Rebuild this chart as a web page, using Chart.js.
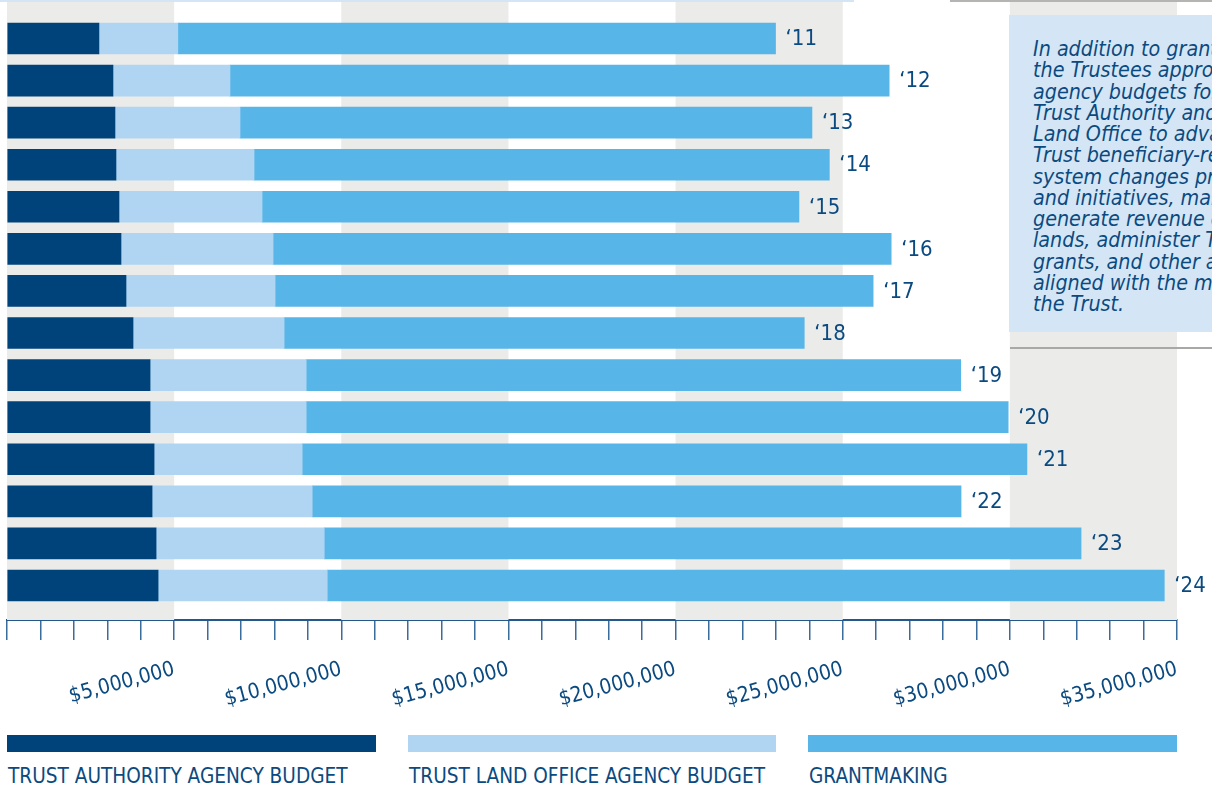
<!DOCTYPE html>
<html>
<head>
<meta charset="utf-8">
<script src="https://cdn.jsdelivr.net/npm/chart.js@4/dist/chart.umd.min.js"></script>
<style>
  html, body { margin: 0; padding: 0; background: #fff; overflow: hidden; width: 1212px; height: 790px; }
  #wrap { position: relative; width: 1212px; height: 790px; overflow: hidden; }
  #c { position: absolute; left: 0; top: 0; }
  .topstrip { position: absolute; left: 0; top: 0; width: 854px; height: 2px; background: #d4e6f5; }
  .topline { position: absolute; left: 950px; top: 0; width: 262px; height: 2px; background: #b4b4b2; }
  .midline { position: absolute; left: 1010px; top: 347px; width: 202px; height: 2px; background: #a8a8a6; }
  #note { position: absolute; left: 1009px; top: 15px; width: 260px; height: 317px; background: #d4e6f5;
          font-family: 'DejaVu Sans Condensed', 'DejaVu Sans', sans-serif; font-style: italic; font-size: 21.3px;
          line-height: 21.25px; color: #0b4a80; white-space: nowrap; box-sizing: border-box; padding: 23px 0 0 24px; }
  .lgbar { position: absolute; top: 735px; height: 17px; }
  .lgtxt { position: absolute; top: 764px; font-family: 'DejaVu Sans Condensed', 'DejaVu Sans', sans-serif;
           font-size: 20.6px; color: #0b4a80; white-space: nowrap; }
</style>
</head>
<body>
<div id="wrap">
  <canvas id="c" width="1212" height="720"></canvas>
  <div class="topstrip"></div>
  <div class="topline"></div>
  <div class="midline"></div>
  <div id="note"></div>
  <div id="legend"></div>
</div>
<script>
// ---- data ----
const years = [2011, 2012, 2013, 2014, 2015, 2016, 2017, 2018, 2019, 2020, 2021, 2022, 2023, 2024];
const authorityBudget = [2750000, 3170000, 3230000, 3260000, 3350000, 3410000, 3560000, 3770000, 4280000, 4280000, 4400000, 4340000, 4460000, 4520000];
const landOfficeBudget = [2360000, 3500000, 3740000, 4130000, 4280000, 4550000, 4460000, 4520000, 4670000, 4670000, 4430000, 4790000, 5030000, 5060000];
const grantmaking = [17880000, 19720000, 17110000, 17210000, 16060000, 18490000, 17890000, 15560000, 19580000, 21000000, 21680000, 19410000, 22640000, 25040000];
const seriesNames = ['TRUST AUTHORITY AGENCY BUDGET', 'TRUST LAND OFFICE AGENCY BUDGET', 'GRANTMAKING'];
const xTickValues = [5000000, 10000000, 15000000, 20000000, 25000000, 30000000, 35000000];
const noteLines = [
  'In addition to grantmaking,',
  'the Trustees approve annual',
  'agency budgets for the',
  'Trust Authority and Trust',
  'Land Office to advance',
  'Trust beneficiary-related',
  'system changes programs',
  'and initiatives, manage and',
  'generate revenue on Trust',
  'lands, administer Trust',
  'grants, and other activities',
  'aligned with the mission of',
  'the Trust.'
];

// ---- styles ----
const colors = ['#00437a', '#afd5f2', '#58b5e7'];
const textColor = '#0b4a80';
const fontFam = "'DejaVu Sans Condensed', 'DejaVu Sans', sans-serif";

document.getElementById('note').innerHTML = noteLines.join('<br>');

// legend
const lg = document.getElementById('legend');
const lgPos = [[7, 369], [408, 368], [808, 369]];
seriesNames.forEach((n, i) => {
  const b = document.createElement('div');
  b.className = 'lgbar';
  b.style.left = lgPos[i][0] + 'px';
  b.style.width = lgPos[i][1] + 'px';
  b.style.background = colors[i];
  lg.appendChild(b);
  const t = document.createElement('div');
  t.className = 'lgtxt';
  t.style.left = (lgPos[i][0] + 1) + 'px';
  t.textContent = n;
  lg.appendChild(t);
});

const bandPlugin = {
  id: 'bands',
  beforeDatasetsDraw(chart) {
    const {ctx, chartArea} = chart;
    const xs = chart.scales.x;
    ctx.save();
    ctx.fillStyle = '#ebebe9';
    for (let v = 0; v < 35000000; v += 10000000) {
      const x0 = xs.getPixelForValue(v);
      const x1 = xs.getPixelForValue(v + 5000000);
      ctx.fillRect(x0, chartArea.top, x1 - x0, chartArea.bottom - chartArea.top);
    }
    ctx.restore();
  }
};

const yearLabelPlugin = {
  id: 'yearLabels',
  afterDatasetsDraw(chart) {
    const {ctx} = chart;
    const meta = chart.getDatasetMeta(chart.data.datasets.length - 1);
    ctx.save();
    ctx.font = '22px ' + fontFam;
    ctx.fillStyle = textColor;
    ctx.textAlign = 'left';
    ctx.textBaseline = 'middle';
    meta.data.forEach((bar, i) => {
      ctx.fillText('\u2018' + String(years[i]).slice(2), bar.x + 10, bar.y + 1);
    });
    ctx.restore();
  }
};

new Chart(document.getElementById('c'), {
  type: 'bar',
  data: {
    labels: years,
    datasets: [
      { label: seriesNames[0], data: authorityBudget, backgroundColor: colors[0] },
      { label: seriesNames[1], data: landOfficeBudget, backgroundColor: colors[1] },
      { label: seriesNames[2], data: grantmaking, backgroundColor: colors[2] }
    ]
  },
  options: {
    indexAxis: 'y',
    responsive: false,
    animation: false,
    devicePixelRatio: 1,
    layout: { padding: { left: 7, right: 35, top: 2, bottom: 0 } },
    datasets: { bar: { barThickness: 31, borderWidth: 0 } },
    plugins: { legend: { display: false }, tooltip: { enabled: false } },
    scales: {
      y: {
        type: 'linear',
        display: false,
        stacked: true,
        reverse: true,
        offset: false,
        grid: { offset: false },
        min: 2010.133,
        max: 2024.82
      },
      x: {
        type: 'linear',
        stacked: true,
        min: 0,
        max: 35000000,
        afterFit(scale) {
          scale.height = 100;
          scale.paddingLeft = 0;
          scale.paddingRight = 0;
        },
        grid: { drawOnChartArea: false, drawTicks: true, tickLength: 20, color: '#3b6d9c', lineWidth: 1.5 },
        border: { display: true, color: '#24578a', width: 2 },
        ticks: {
          stepSize: 1000000,
          maxTicksLimit: 40,
          autoSkip: false,
          minRotation: 15,
          maxRotation: 15,
          padding: 17,
          color: textColor,
          font: { family: fontFam, size: 21 },
          callback(v) {
            return xTickValues.includes(v) ? '$' + v.toLocaleString('en-US') : '';
          }
        }
      }
    }
  },
  plugins: [bandPlugin, yearLabelPlugin]
});
</script>
</body>
</html>
